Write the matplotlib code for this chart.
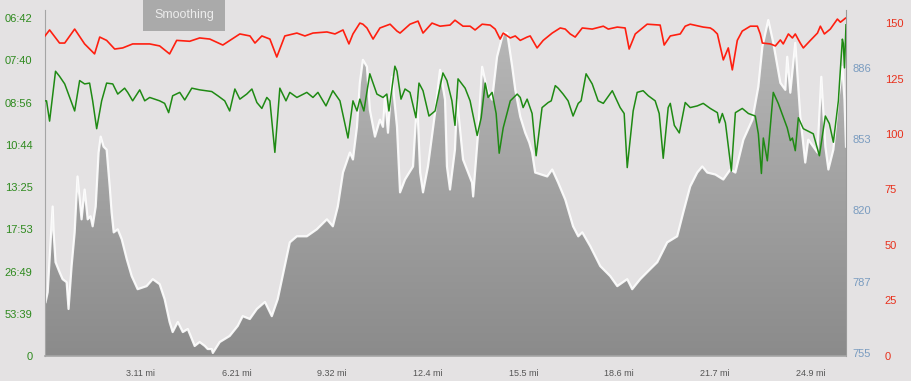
import matplotlib
matplotlib.use("Agg")
import numpy as np
import matplotlib.pyplot as plt
from matplotlib.patches import Rectangle

plt.rcParams['font.family'] = ['Liberation Sans', 'DejaVu Sans']

# distance in km
ele_km = [0.03, 0.14, 0.40, 0.45, 0.55, 0.76, 0.92, 1.13, 1.23, 1.39, 1.55, 1.70, 1.91, 2.07, 2.23,
          2.38, 2.49, 2.65, 2.80, 2.91, 3.06, 3.22, 3.38, 3.48, 3.59, 3.80, 4.01, 4.27, 4.53, 4.84,
          5.31, 5.63, 5.99, 6.25, 6.51, 6.67, 6.94, 7.20, 7.46, 7.82, 8.08, 8.35, 8.50, 8.71, 8.77,
          9.13, 9.65, 10.07, 10.33, 10.70, 11.07, 11.49, 11.85, 12.16, 12.53, 12.79, 13.16, 13.68,
          14.20, 14.73, 15.04, 15.30, 15.57, 15.93, 16.09, 16.30, 16.45, 16.61, 16.82, 16.97, 17.24,
          17.50, 17.66, 17.76, 17.92, 18.13, 18.39, 18.55, 18.81, 19.23, 19.44, 19.60, 19.75, 20.01,
          20.38, 20.64, 20.90, 21.00, 21.16, 21.42, 21.53, 21.84, 22.31, 22.37, 22.63, 22.84, 23.10,
          23.36, 23.62, 23.94, 24.15, 24.41, 24.57, 24.83, 25.09, 25.30, 25.45, 25.61, 26.24, 26.50,
          26.81, 27.18, 27.59, 27.86, 28.07, 28.49, 29.01, 29.53, 29.90, 30.42, 30.68, 31.10, 31.62,
          31.99, 32.51, 33.03, 33.35, 33.71, 34.08, 34.34, 34.60, 35.02, 35.44, 35.81, 36.07, 36.49,
          36.96, 37.27, 37.48, 37.79, 38.05, 38.42, 38.68, 38.78, 38.94, 39.20, 39.46, 39.72, 39.88,
          40.36, 40.56, 40.77, 40.93, 41.19, 41.45, 41.66, 41.77, 41.85]
elevation = [778.4, 782.9, 822.3, 810.4, 796.7, 792.1, 788.9, 787.5, 775.2, 794.9, 810.4, 836.1, 816.4,
             830.1, 816.4, 817.8, 813.2, 822.3, 847.1, 854.4, 849.8, 848.4, 831.5, 819.6, 810.4, 811.8,
             807.2, 798.1, 790.3, 784.3, 785.7, 788.9, 786.6, 779.7, 769.2, 764.6, 769.2, 764.6, 766.0,
             758.2, 760.0, 758.2, 756.8, 756.8, 755.0, 760.0, 762.8, 767.4, 771.9, 770.6, 775.2, 778.4,
             771.9, 779.7, 794.9, 805.8, 808.6, 808.6, 811.8, 816.4, 813.2, 822.3, 837.9, 847.1, 843.9,
             858.9, 879.1, 889.7, 886.5, 866.8, 854.4, 862.2, 858.9, 872.7, 856.2, 881.9, 858.9, 828.8,
             834.7, 840.7, 871.4, 837.9, 828.8, 840.7, 865.4, 885.1, 871.4, 840.7, 830.1, 848.4, 871.4,
             843.9, 833.3, 826.9, 856.2, 886.5, 875.9, 871.4, 891.1, 902.0, 902.0, 886.5, 875.9, 863.6,
             856.2, 851.7, 847.1, 837.9, 836.1, 839.3, 833.3, 825.5, 813.2, 808.6, 810.4, 804.0, 794.9,
             790.3, 785.7, 788.9, 784.3, 788.9, 793.5, 796.7, 805.8, 808.6, 819.6, 831.5, 837.9, 840.7,
             837.9, 837.0, 834.7, 839.3, 837.9, 853.0, 862.2, 877.3, 895.6, 908.0, 897.5, 879.1, 875.9,
             891.1, 874.6, 897.5, 863.6, 842.5, 853.0, 847.1, 881.9, 849.8, 839.3, 848.4, 871.4, 886.5,
             871.4, 849.8]

# speed in m/s (left axis shows pace per mile)
spd_km = [0.0, 0.08, 0.24, 0.55, 0.76, 1.03, 1.29, 1.55, 1.81, 2.07, 2.33, 2.49, 2.70, 2.96, 3.22,
          3.54, 3.80, 4.16, 4.32, 4.58, 4.95, 5.21, 5.47, 5.99, 6.25, 6.46, 6.67, 7.04, 7.30, 7.67,
          8.08, 8.71, 9.03, 9.39, 9.65, 9.92, 10.18, 10.54, 10.81, 11.07, 11.33, 11.59, 11.75, 12.01,
          12.27, 12.59, 12.79, 13.16, 13.68, 14.00, 14.26, 14.68, 15.04, 15.41, 15.83, 16.09, 16.30,
          16.45, 16.66, 16.97, 17.34, 17.66, 17.86, 17.97, 18.28, 18.39, 18.60, 18.81, 19.07, 19.38,
          19.54, 19.75, 20.06, 20.38, 20.79, 21.00, 21.26, 21.42, 21.58, 21.95, 22.21, 22.58, 22.79,
          23.00, 23.15, 23.36, 23.57, 23.73, 23.94, 24.31, 24.67, 24.83, 24.98, 25.19, 25.45, 25.66,
          25.97, 26.29, 26.45, 26.66, 26.81, 27.07, 27.33, 27.59, 27.86, 28.01, 28.27, 28.59, 28.90,
          29.17, 29.64, 30.05, 30.26, 30.42, 30.73, 30.94, 31.25, 31.52, 31.88, 32.09, 32.30, 32.56,
          32.67, 32.88, 33.14, 33.45, 33.71, 34.08, 34.39, 34.76, 35.13, 35.23, 35.39, 35.55, 35.86,
          36.07, 36.43, 36.75, 37.11, 37.27, 37.43, 37.53, 37.74, 38.05, 38.31, 38.78, 38.94, 39.05,
          39.20, 39.36, 39.62, 40.14, 40.46, 40.77, 40.98, 41.19, 41.45, 41.66, 41.71, 41.77, 41.85]
speed = [3.02, 3.02, 2.78, 3.37, 3.31, 3.22, 3.06, 2.90, 3.26, 3.22, 3.23, 3.02, 2.69, 3.02, 3.23,
         3.22, 3.10, 3.17, 3.12, 3.02, 3.15, 3.02, 3.06, 3.02, 2.99, 2.88, 3.08, 3.12, 3.03, 3.17,
         3.15, 3.13, 3.08, 3.02, 2.90, 3.16, 3.04, 3.10, 3.16, 3.00, 2.93, 3.06, 3.02, 2.41,
         3.17, 3.02, 3.12, 3.06, 3.12, 3.06, 3.12, 2.96, 3.14, 3.02, 2.58, 3.02, 2.90,
         3.04, 2.90, 3.34, 3.10, 3.06, 3.10, 2.90, 3.43, 3.37, 3.04, 3.16, 3.12, 2.82,
         3.23, 3.14, 2.84, 2.90, 3.35, 3.26, 3.02, 2.73, 3.28, 3.17, 3.02, 2.61, 2.82,
         3.23, 3.06, 3.12, 2.87, 2.40, 2.70, 3.02, 3.10, 3.06, 2.94, 3.04, 2.87, 2.37,
         2.94, 3.00, 3.02, 3.20, 3.17, 3.10, 3.02, 2.84, 2.99, 3.02, 3.34, 3.22, 3.02,
         2.99, 3.14, 2.94, 2.87, 2.23, 2.90, 3.12, 3.14, 3.08, 3.02, 2.87, 2.34, 2.94,
         2.99, 2.73, 2.64, 3.00, 2.94, 2.96, 2.99, 2.93, 2.88, 2.76, 2.87, 2.76, 2.19,
         2.88, 2.93, 2.87, 2.84, 2.63, 2.16, 2.58, 2.31, 3.12, 2.99, 2.70, 2.55, 2.58,
         2.43, 2.82, 2.69, 2.63, 2.37, 2.84, 2.75, 2.53, 3.02, 3.75, 3.70, 3.41, 3.92]

# heart rate, bpm
hr_km = [0.0, 0.24, 0.76, 1.03, 1.55, 2.07, 2.59, 2.86, 3.22, 3.64, 4.06, 4.58, 5.47, 5.99, 6.51,
         6.88, 7.56, 8.08, 8.61, 9.29, 10.18, 10.71, 10.97, 11.33, 11.75, 12.11, 12.53, 13.16, 13.58,
         14.00, 14.73, 15.15, 15.57, 15.88, 16.09, 16.45, 16.61, 16.82, 17.14, 17.50, 18.03, 18.39,
         18.55, 19.07, 19.49, 19.75, 20.22, 20.64, 21.16, 21.42, 21.84, 22.21, 22.47, 22.84, 23.26,
         23.52, 23.78, 23.94, 24.31, 24.57, 24.83, 25.19, 25.35, 25.71, 26.03, 26.50, 26.92, 27.18,
         27.44, 27.70, 28.07, 28.59, 29.17, 29.43, 29.90, 30.31, 30.52, 30.84, 31.46, 32.14, 32.35,
         32.67, 33.19, 33.45, 33.71, 34.39, 34.76, 34.92, 35.13, 35.44, 35.70, 35.91, 36.17, 36.43,
         36.85, 37.22, 37.37, 37.48, 37.90, 38.16, 38.42, 38.57, 38.84, 39.05, 39.20, 39.46, 39.62,
         39.99, 40.36, 40.51, 40.72, 41.03, 41.40, 41.56, 41.82]
heart_rate = [144.2, 146.9, 141.0, 141.0, 147.3, 140.6, 136.1, 143.7, 142.2, 138.3, 138.8, 140.6,
              140.6, 139.7, 136.1, 142.2, 141.8, 143.3, 142.8, 140.1, 145.1, 144.2, 141.0, 144.2,
              142.8, 134.7, 144.2, 145.5, 144.2, 145.5, 146.0, 145.1, 146.9, 140.6, 145.1, 150.0,
              149.5, 147.8, 142.8, 147.8, 149.5, 146.4, 145.5, 149.5, 150.9, 145.5, 150.0, 148.6,
              149.1, 151.3, 148.6, 148.6, 146.9, 149.5, 149.1, 147.3, 142.8, 145.5, 143.3, 144.2,
              142.2, 143.7, 144.2, 138.8, 142.2, 145.5, 147.8, 147.3, 145.1, 143.7, 147.8, 147.3,
              148.6, 147.3, 148.2, 147.8, 138.3, 145.1, 149.5, 149.1, 140.1, 144.2, 145.1, 148.6,
              149.5, 148.2, 147.8, 146.9, 145.1, 133.4, 138.8, 128.9, 142.2, 146.4, 148.6, 148.6,
              145.1, 141.0, 140.6, 139.7, 142.4, 140.6, 145.1, 143.3, 145.1, 141.0, 138.8, 142.2,
              145.5, 148.6, 145.1, 147.3, 151.8, 150.4, 152.2]

km_ticks = [5, 10, 15, 20, 25, 30, 35, 40]
speed_ticks = [0, 0.5, 1.0, 1.5, 2.0, 2.5, 3.0, 3.5, 4.0]
ele_ticks = [755, 787.75, 820.5, 853.25, 886]
ele_labels = ['755', '787', '820', '853', '886']
hr_ticks = [0, 25, 50, 75, 100, 125, 150]


def pace_label(v):
    if v == 0:
        return '0'
    sec = 1609.344 / v
    m = int(sec // 60)
    s = int(round(sec - 60 * m))
    return f'{m:02d}:{s:02d}'


bg = '#e4e2e3'
W, H = 911, 381
fig = plt.figure(figsize=(W / 100, H / 100), dpi=100, facecolor=bg)
left, right, top, bottom = 45, 846, 10, 356
rect = [left / W, (H - bottom) / H, (right - left) / W, (bottom - top) / H]

ax = fig.add_axes(rect, facecolor=bg)
ax_spd = ax.twinx()
ax_hr = ax.twinx()

ax.set_xlim(0, 41.85)
ax.set_ylim(753.6, 912.6)

# elevation area with vertical gradient
poly = ax.fill_between(ele_km, 753.6, elevation, facecolor='none', edgecolor='none')
grad = np.linspace(0, 1, 256).reshape(-1, 1)
cmap = matplotlib.colors.LinearSegmentedColormap.from_list('g', ['#8b8b8b', '#bababa'])
img = ax.imshow(grad, cmap=cmap, aspect='auto', origin='lower',
                extent=[0, 41.85, 753.6, 912.6], zorder=1)
img.set_clip_path(poly.get_paths()[0], transform=ax.transData)
ax.plot(ele_km, elevation, color='white', lw=1.6, alpha=0.9, zorder=2)

ax.yaxis.tick_right()
ax.set_yticks(ele_ticks)
ax.set_yticklabels(ele_labels)
ax.tick_params(axis='y', length=0, pad=4.5, labelsize=8, labelcolor='#7a9cc0')
ax.set_xticks(km_ticks)
ax.set_xticklabels([f'{k * 0.621371:.3g} mi' for k in km_ticks])
ax.tick_params(axis='x', length=0, pad=9, labelsize=6.5, labelcolor='#555555')
ax.spines['top'].set_visible(False)
ax.spines['left'].set_color('#a5a5a5')
ax.spines['bottom'].set_color('#a5a5a5')
ax.spines['right'].set_color('#9a9a9a')
ax.spines['bottom'].set_linewidth(1.2)

# speed / pace on the left
ax_spd.plot(spd_km, speed, color='#1f8a14', lw=1.1, zorder=3)
ax_spd.set_ylim(0, 4.095)
ax_spd.yaxis.tick_left()
ax_spd.set_yticks(speed_ticks)
ax_spd.set_yticklabels([pace_label(v) for v in speed_ticks])
ax_spd.tick_params(axis='y', length=0, pad=9, labelsize=8, labelcolor='#2e8a1e')
for s in ax_spd.spines.values():
    s.set_visible(False)

# heart rate, outer right axis
ax_hr.plot(hr_km, heart_rate, color='#ff1f10', lw=1.2, zorder=3)
ax_hr.set_ylim(-0.1, 155.9)
ax_hr.yaxis.tick_right()
ax_hr.set_yticks(hr_ticks)
ax_hr.tick_params(axis='y', length=0, pad=28, labelsize=8, labelcolor='#e8301c')
for s in ax_hr.spines.values():
    s.set_visible(False)

# "Smoothing" button
fig.patches.append(Rectangle((143 / W, 1 - 31 / H), 82 / W, 31 / H, transform=fig.transFigure,
                             facecolor='#aaaaaa', edgecolor='none'))
fig.text(184 / W, 1 - 15 / H, 'Smoothing', ha='center', va='center', fontsize=9, color='#ececec')

fig.savefig('out.png', dpi=100, facecolor=bg)
